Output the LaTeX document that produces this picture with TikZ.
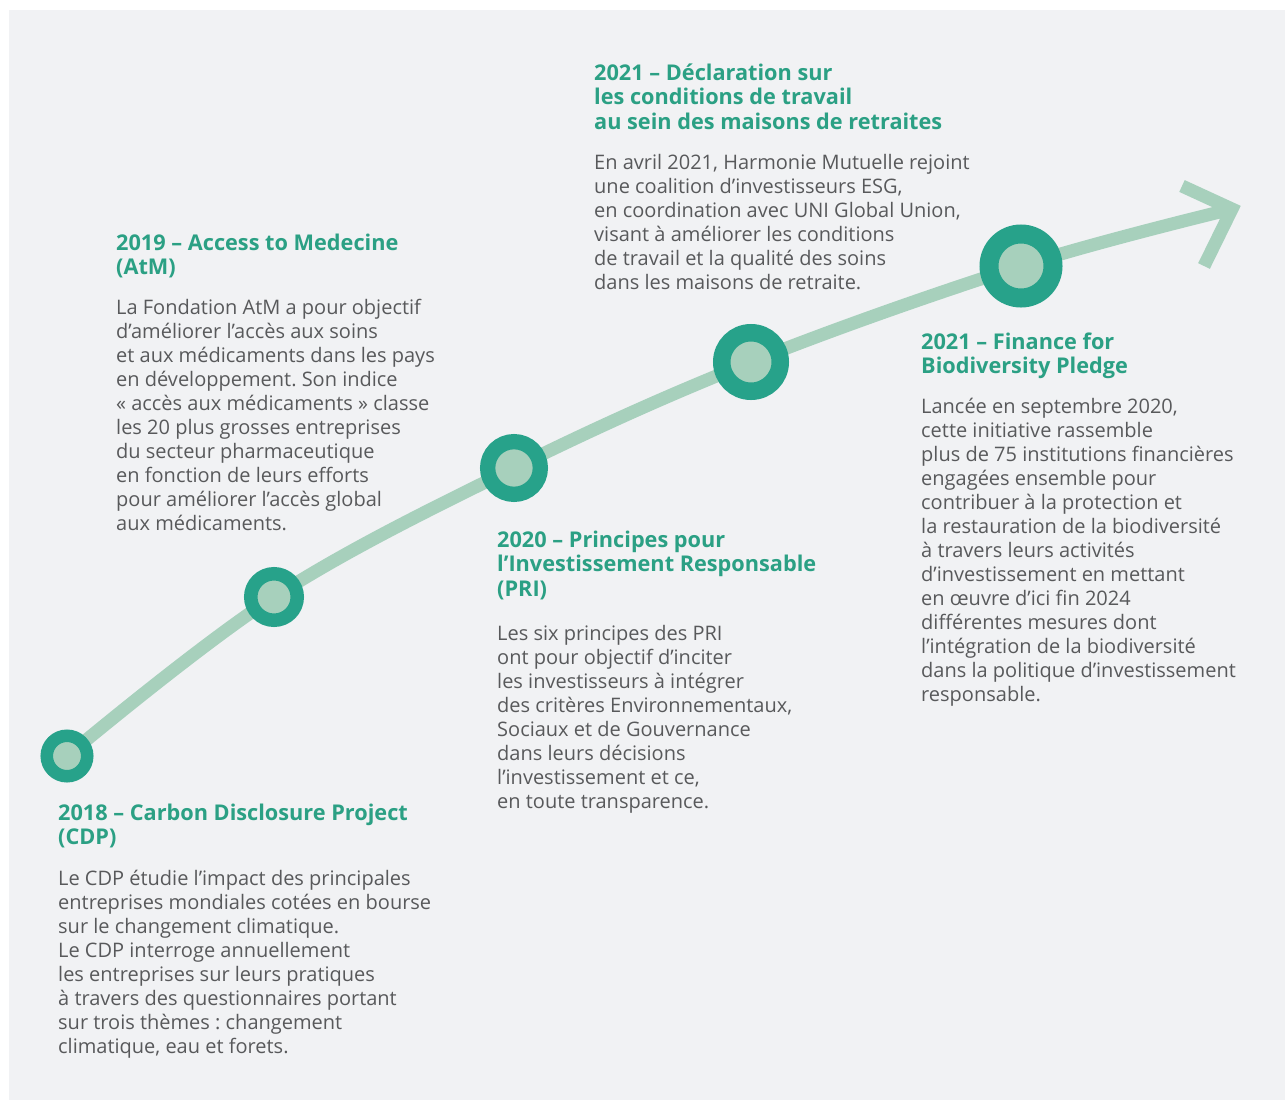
\documentclass[tikz,border=0pt]{standalone}
\usepackage{fontspec}
\setmainfont{Open Sans}
\usetikzlibrary{positioning}
\frenchspacing

\definecolor{bgcol}{HTML}{F1F2F4}
\definecolor{darkteal}{HTML}{27A28A}
\definecolor{lightteal}{HTML}{A7D0BC}
\definecolor{headcol}{HTML}{2BA084}
\definecolor{bodycol}{HTML}{58595B}

\tikzset{
  head/.style={font=\fontsize{21.7}{24.5}\selectfont\bfseries,text=headcol,align=left,anchor=base west,inner sep=0pt},
  body/.style={font=\fontsize{20}{24}\selectfont,text=bodycol,align=left,anchor=base west,inner sep=0pt},
  milestone/.style={circle,draw=darkteal,fill=lightteal,inner sep=0pt},
  track/.style={draw=lightteal,line width=13pt}
}

\begin{document}
\begin{tikzpicture}[x=1pt,y=-1pt]
	\useasboundingbox (0,0) rectangle (1285,1100);
	\fill[bgcol] (9,10) rectangle (1285,1100);
	% points on the curve
	\coordinate (p1) at (67,756);
	\coordinate (p2) at (274,597);
	\coordinate (p3) at (514,468);
	\coordinate (p4) at (751,362);
	\coordinate (p5) at (1021,266);
	\coordinate (tip) at (1232,209);
	\coordinate (armup) at (1182,186);
	\coordinate (armdn) at (1204,266);
	\draw[track] plot[smooth,tension=0.6] coordinates {(p1) (p2) (p3) (p4) (p5) (tip)};
	\draw[track,miter limit=10] (armup) -- (tip) -- (armdn);
	\node(c1) [milestone,minimum size=40.5pt,line width=12.5pt] at (p1) {};
	\node(c2) [milestone,minimum size=46.5pt,line width=13.5pt] at (p2) {};
	\node(c3) [milestone,minimum size=52.7pt,line width=15.3pt] at (p3) {};
	\node(c4) [milestone,minimum size=58.5pt,line width=17.5pt] at (p4) {};
	\node(c5) [milestone,minimum size=64pt,line width=19pt] at (p5) {};
	% 2018 (base = last line)
	\node(h18) [head] at (58,844.5) {2018 – Carbon Disclosure Project\\(CDP)};
	\node(b18) [body] at (58,1053) {Le CDP étudie l’impact des principales\\entreprises mondiales cotées en bourse\\sur le changement climatique.\\Le CDP interroge annuellement\\les entreprises sur leurs pratiques\\à travers des questionnaires portant\\sur trois thèmes : changement\\climatique, eau et forets.};
	% 2019
	\node(h19) [head] at (116,274.5) {2019 – Access to Medecine\\(AtM)};
	\node(b19) [body] at (116,530) {La Fondation AtM a pour objectif\\d’améliorer l’accès aux soins\\et aux médicaments dans les pays\\en développement. Son indice\\« accès aux médicaments » classe\\les 20 plus grosses entreprises\\du secteur pharmaceutique\\en fonction de leurs efforts\\pour améliorer l’accès global\\aux médicaments.};
	% 2020
	\node(h20) [head] at (497,596) {2020 – Principes pour\\l’Investissement Responsable\\(PRI)};
	\node(b20) [body] at (497,808) {Les six principes des PRI\\ont pour objectif d’inciter\\les investisseurs à intégrer\\des critères Environnementaux,\\Sociaux et de Gouvernance\\dans leurs décisions\\l’investissement et ce,\\en toute transparence.};
	% 2021 a
	\node(h21a) [head] at (594,129) {2021 – Déclaration sur\\les conditions de travail\\au sein des maisons de retraites};
	\node(b21a) [body] at (594,289) {En avril 2021, Harmonie Mutuelle rejoint\\une coalition d’investisseurs ESG,\\en coordination avec UNI Global Union,\\visant à améliorer les conditions\\de travail et la qualité des soins\\dans les maisons de retraite.};
	% 2021 b
	\node(h21b) [head] at (921,373.5) {2021 – Finance for\\Biodiversity Pledge};
	\node(b21b) [body] at (921,701) {Lancée en septembre 2020,\\cette initiative rassemble\\plus de 75 institutions financières\\engagées ensemble pour\\contribuer à la protection et\\la restauration de la biodiversité\\à travers leurs activités\\d’investissement en mettant\\en œuvre d’ici fin 2024\\différentes mesures dont\\l’intégration de la biodiversité\\dans la politique d’investissement\\responsable.};
\end{tikzpicture}
\end{document}
